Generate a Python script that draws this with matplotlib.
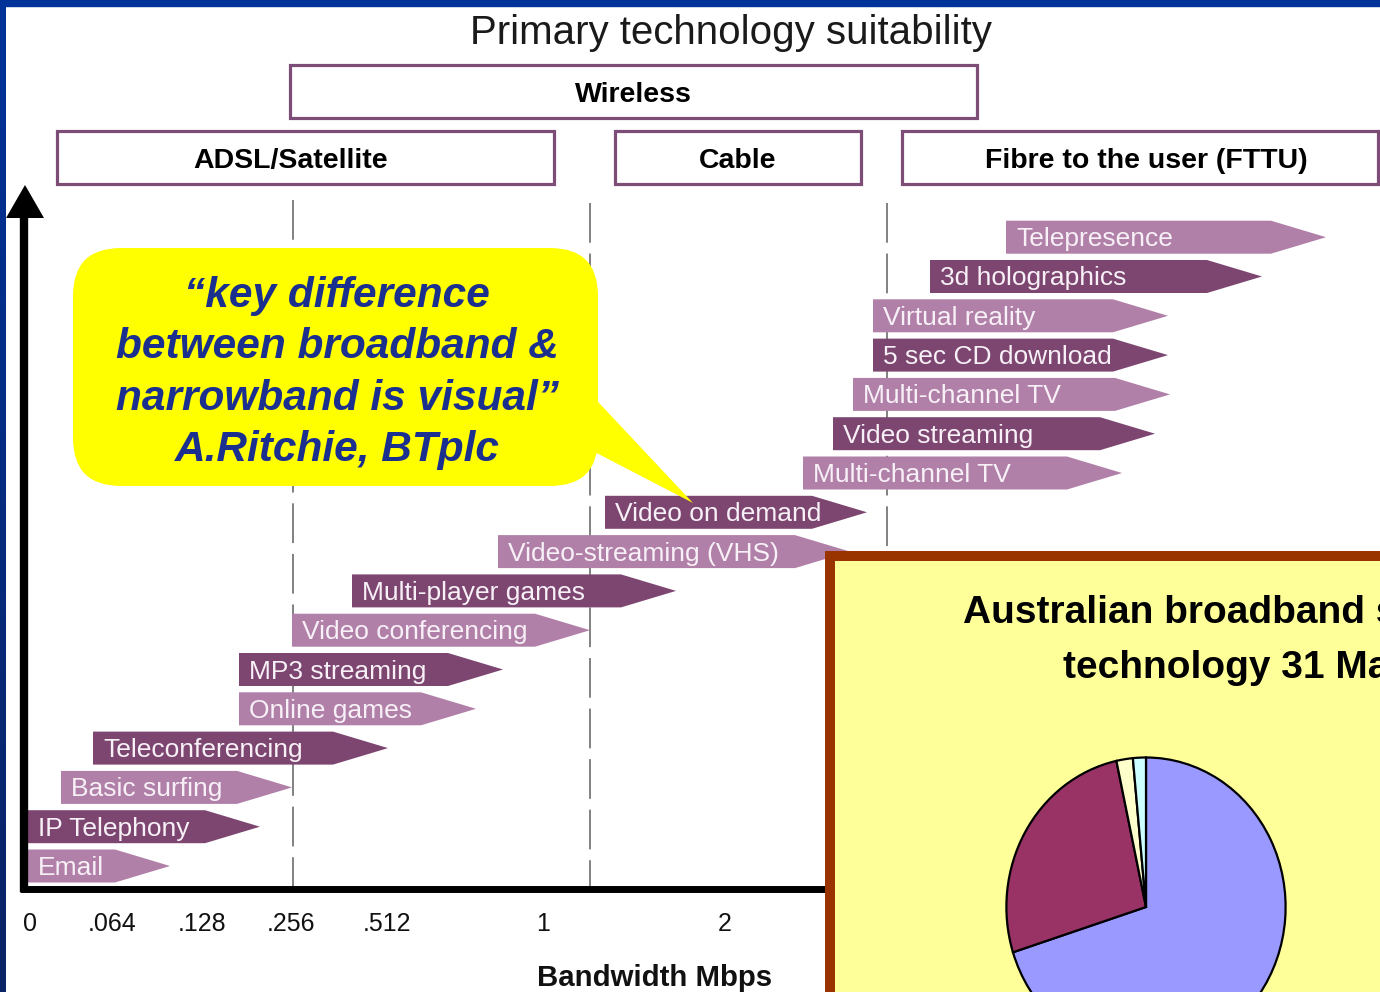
import numpy as np
import matplotlib
matplotlib.use("Agg")
import matplotlib.pyplot as plt
from matplotlib.patches import Polygon, Rectangle, FancyBboxPatch

# ============================================================
# DATA
# ============================================================

W, H = 1380, 992

TITLE = "Primary technology suitability"

TECH_NAMES = ["Wireless", "ADSL/Satellite", "Cable", "Fibre to the user (FTTU)"]
TECH_X0 = [290, 57, 615, 902]
TECH_X1 = [977, 554, 861, 1378]
TECH_LABEL_X = [633, 291, 738, 1146]
TECH_LEVEL = [0, 1, 1, 1]

APPS = [
    "Email", "IP Telephony", "Basic surfing", "Teleconferencing",
    "Online games", "MP3 streaming", "Video conferencing",
    "Multi-player games", "Video-streaming (VHS)", "Video on demand",
    "Multi-channel TV", "Video streaming", "Multi-channel TV",
    "5 sec CD download", "Virtual reality", "3d holographics",
    "Telepresence",
]
APP_START = [28, 28, 61, 93, 239, 239, 292, 352, 498, 605,
             803, 833, 853, 873, 873, 930, 1006]
APP_END = [170, 260, 292, 388, 476, 503, 590, 676, 850, 867,
           1122, 1155, 1170, 1168, 1168, 1262, 1326]

TICK_LABELS = ["0", ".064", ".128", ".256", ".512", "1", "2"]
TICK_X = [30, 112, 202, 291, 387, 543, 725]
DIVIDERS = [293, 590, 887]

QUOTE = ["\u201ckey difference", "between broadband &",
         "narrowband is visual\u201d", "A.Ritchie, BTplc"]

PIE_LABELS = ["DSL", "Cable", "Satellite", "Other"]
PIE_VALUES = [70.1, 26.5, 1.9, 1.5]
PIE_COLORS = ["#9999ff", "#993366", "#ffffcc", "#ccffff"]

# ============================================================
# STYLE
# ============================================================

LIGHT = "#b180a9"
DARK = "#7d4671"
BOX_EDGE = "#7e4d77"
DY = 3  # text baseline nudge (px)

plt.rcParams["font.family"] = ["Liberation Sans", "DejaVu Sans"]

fig = plt.figure(figsize=(W / 100, H / 100), dpi=100)
fig.patch.set_facecolor("white")

ax = fig.add_axes([0, 0, 1, 1])

# --- slide border -------------------------------------------
grad = np.linspace(0, 1, 200)[:, None, None]
top_c = np.array([0, 51, 153]) / 255
bot_c = np.array([10, 35, 100]) / 255
strip = top_c * (1 - grad) + bot_c * grad
ax.imshow(strip, extent=[0, 6, H, 0], aspect="auto", zorder=10)
ax.add_patch(Rectangle((0, 0), W, 6, color="#003399", zorder=10))
ax.set_xlim(0, W)
ax.set_ylim(H, 0)
ax.axis("off")

# --- title and technology boxes -----------------------------
ax.text(731, 30 + DY, TITLE, ha="center", va="center", fontsize=29,
        color="#1a1a1a")

for name, x0, x1, lx, lev in zip(TECH_NAMES, TECH_X0, TECH_X1,
                                 TECH_LABEL_X, TECH_LEVEL):
    y0 = 65 + lev * 66
    ax.add_patch(Rectangle((x0, y0), x1 - x0, 53, facecolor="white",
                           edgecolor=BOX_EDGE, lw=2.3, zorder=2))
    ax.text(lx, y0 + 27 + DY, name, ha="center", va="center",
            fontsize=20.5, fontweight="bold", color="black", zorder=3)

# --- dashed dividers ----------------------------------------
for i, xd in enumerate(DIVIDERS):
    ax.plot([xd, xd], [200 if i == 0 else 203, 889], color="#777777",
            lw=1.3, dashes=(22, 6), zorder=1)

# --- application arrows -------------------------------------
ROW_H = 33
HEAD = 55
for i, (lab, xs, xe) in enumerate(zip(APPS, APP_START, APP_END)):
    yc = 866 - i * 39.3
    pts = [(xs, yc - ROW_H / 2), (xe - HEAD, yc - ROW_H / 2), (xe, yc),
           (xe - HEAD, yc + ROW_H / 2), (xs, yc + ROW_H / 2)]
    ax.add_patch(Polygon(pts, closed=True,
                         facecolor=LIGHT if i % 2 == 0 else DARK,
                         edgecolor="none", zorder=2))
    ax.text(xs + 10, yc + 2, lab, ha="left", va="center", fontsize=19,
            color="#f7f0f6", zorder=3)

# --- axes ---------------------------------------------------
ax.plot([24, 24], [212, 892], color="black", lw=6, solid_capstyle="butt",
        zorder=4)
ax.plot([20, 830], [889, 889], color="black", lw=5, solid_capstyle="butt",
        zorder=4)
ax.add_patch(Polygon([(6, 218), (25, 185), (44, 218)], closed=True,
                     facecolor="black", edgecolor="none", zorder=4))

for lab, xt in zip(TICK_LABELS, TICK_X):
    ax.text(xt, 921 + DY, lab, ha="center", va="center", fontsize=18,
            color="#111111")

ax.text(655, 975 + DY, "Bandwidth Mbps", ha="center", va="center",
        fontsize=21.2, fontweight="bold", color="#111111")

# --- quote bubble -------------------------------------------
ax.add_patch(FancyBboxPatch((73, 248), 525, 238,
                            boxstyle="round,pad=0,rounding_size=48",
                            facecolor="#ffff00", edgecolor="none", zorder=5))
ax.add_patch(Polygon([(585, 388), (693, 503), (585, 447)], closed=True,
                     facecolor="#ffff00", edgecolor="none", zorder=5))

for k, line in enumerate(QUOTE):
    ax.text(337, 293 + DY + k * 51.5, line, ha="center", va="center",
            fontsize=30.5, fontweight="bold", fontstyle="italic",
            color="#1b2f8f", zorder=6)

# --- inset: broadband by technology -------------------------
ax.add_patch(Rectangle((830, 556), 700, 600, facecolor="#ffff99",
                       edgecolor="#993300", lw=7.2, zorder=7))
ax.text(963, 610 + DY, "Australian broadband subscribers by", ha="left",
        va="center", fontsize=28, fontweight="bold", color="black", zorder=8)
ax.text(1063, 665 + DY, "technology 31 March 2005", ha="left",
        va="center", fontsize=28, fontweight="bold", color="black", zorder=8)

pax = fig.add_axes([1005 / W, (H - 1058) / H, 282 / W, 302 / H], zorder=9)
pax.pie(PIE_VALUES, labels=None, colors=PIE_COLORS, startangle=90,
        counterclock=False,
        wedgeprops=dict(edgecolor="black", linewidth=1.6))
pax.set_aspect("auto")
pax.set_xlim(-1.01, 1.01)
pax.set_ylim(-1.01, 1.01)
pax.axis("off")

fig.savefig("out.png", dpi=100)
